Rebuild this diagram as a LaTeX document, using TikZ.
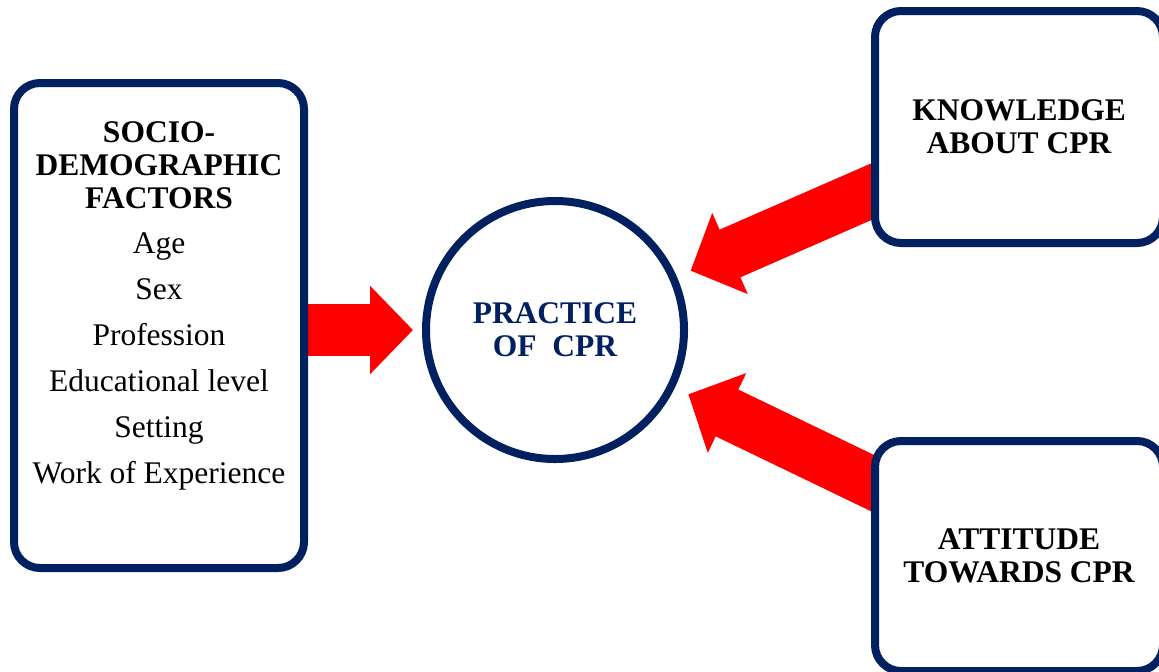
\documentclass[tikz,border=0pt]{standalone}
\usepackage{fontspec}
\setmainfont{Liberation Serif}
\usetikzlibrary{arrows.meta,positioning,backgrounds}
\definecolor{navy}{HTML}{002060}
\definecolor{arrowred}{HTML}{FF0000}
\tikzset{
  frame/.style={draw=navy,line width=4pt,fill=white,rounded corners=13pt},
  bigarrow/.style={draw=arrowred,line width=26pt,-{Triangle[width=43pt,length=21.5pt]}},
  boldtext/.style={font=\fontsize{15.75}{16.5}\selectfont\bfseries,align=center,inner sep=0pt}
}

\begin{document}
\begin{tikzpicture}[x=0.5pt,y=-0.5pt]
\useasboundingbox (0,0) rectangle (1159,671);
\clip (0,0) rectangle (1159,671);
% boxes
\node (factors) [frame,minimum width=145pt,minimum height=242.5pt] at (159,325.5) {};
\node (factorstext) [below=21pt of factors.north,align=center,inner sep=0pt,
  font=\fontsize{15.75}{23}\selectfont]
  {\textbf{SOCIO-}\\[-6.5pt]\textbf{DEMOGRAPHIC}\\[-6.5pt]\textbf{FACTORS}\\[-0.5pt]
   Age\\Sex\\Profession\\Educational level\\Setting\\Work of Experience};
\node (knowledge) [frame,boldtext,minimum width=144pt,minimum height=116pt] at (1019,127)
  {KNOWLEDGE\\ABOUT CPR};
\node (attitude) [frame,boldtext,minimum width=144pt,minimum height=115pt] at (1019,556)
  {ATTITUDE\\TOWARDS CPR};
\node (practice) [circle,draw=navy,line width=4pt,fill=white,boldtext,text=navy,
  minimum size=129pt] at (555,330) {PRACTICE\\OF\ \ CPR};
%
\begin{pgfonlayer}{background}
\draw[bigarrow,shorten >=4.5pt] (factors.east |- practice.west) -- (practice.west);
\draw[bigarrow,shorten >=7.5pt] ([xshift=15pt,yshift=-25.85pt]knowledge.west) -- (practice);
\draw[bigarrow,shorten >=7.5pt] ([xshift=16pt,yshift=29.1pt]attitude.west) -- (practice);
\end{pgfonlayer}
\end{tikzpicture}
\end{document}
